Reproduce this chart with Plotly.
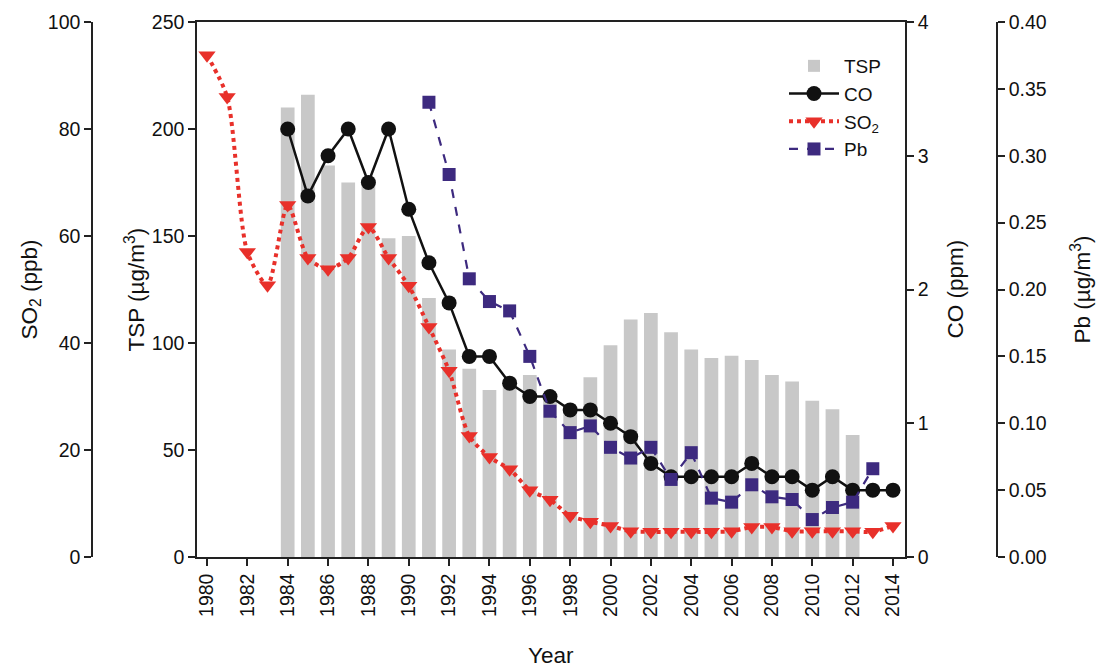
import plotly.graph_objects as go

tsp_years = list(range(1984, 2013))
tsp = [210, 216, 183, 175, 177, 149, 150, 121, 97, 88, 78, 83, 85, 76, 68, 84,
       99, 111, 114, 105, 97, 93, 94, 92, 85, 82, 73, 69, 57]

co_years = list(range(1984, 2015))
co = [3.2, 2.7, 3.0, 3.2, 2.8, 3.2, 2.6, 2.2, 1.9, 1.5, 1.5, 1.3, 1.2, 1.2, 1.1, 1.1,
      1.0, 0.9, 0.7, 0.6, 0.6, 0.6, 0.6, 0.7, 0.6, 0.6, 0.5, 0.6, 0.5, 0.5, 0.5]

so2_years = list(range(1980, 2015))
so2 = [93.8, 86.0, 57.0, 50.8, 65.8, 55.9, 53.8, 55.9, 61.7, 55.9, 50.7, 43.0,
       34.8, 22.6, 18.7, 16.4, 12.5, 10.7, 7.7, 6.6, 5.8, 4.8, 4.7, 4.7, 4.7,
       4.7, 4.8, 5.6, 5.6, 4.8, 4.8, 4.8, 4.8, 4.7, 5.8]

pb_years = list(range(1991, 2014))
pb = [0.340, 0.286, 0.208, 0.191, 0.184, 0.150, 0.109, 0.093, 0.098, 0.082,
      0.074, 0.082, 0.058, 0.078, 0.044, 0.041, 0.054, 0.045, 0.043, 0.028,
      0.037, 0.041, 0.066]

x_ticks = list(range(1980, 2015, 2))

FONT = "Liberation Sans, Arial, sans-serif"
AX = "#222222"
W, H = 1099, 667
ML, MR, MT, MB = 92, 102, 22, 110
PW = W - ML - MR
PH = H - MT - MB


def px(x):
    return (x - ML) / PW


def py(y):
    return (H - MB - y) / PH


fig = go.Figure()
fig.add_trace(go.Bar(x=tsp_years, y=tsp, name="TSP", marker_color="#c8c8c8",
                     marker_line_width=0, width=0.68, xaxis="x", yaxis="y",
                     legendrank=1))
fig.add_trace(go.Scatter(x=so2_years, y=so2, name="SO<sub>2</sub>", mode="lines+markers",
                         line=dict(color="#e8302a", width=4, dash="dot", shape="spline", smoothing=0.7),
                         marker=dict(symbol="triangle-down", size=15, color="#e8302a"),
                         xaxis="x", yaxis="y3", legendrank=3))
fig.add_trace(go.Scatter(x=co_years, y=co, name="CO", mode="lines+markers",
                         line=dict(color="#111111", width=2.5),
                         marker=dict(symbol="circle", size=15, color="#111111"),
                         xaxis="x", yaxis="y2", legendrank=2))
fig.add_trace(go.Scatter(x=pb_years, y=pb, name="Pb", mode="lines+markers",
                         line=dict(color="#3d2a7f", width=2.2, dash="dash"),
                         marker=dict(symbol="square", size=13, color="#3d2a7f"),
                         xaxis="x", yaxis="y4", legendrank=4))

tickfont = dict(family=FONT, size=19.5, color="#111")
common = dict(showgrid=False, zeroline=False, showline=True, linecolor=AX, linewidth=1.5,
              ticks="outside", ticklen=7, tickwidth=1.5, tickcolor=AX, tickfont=tickfont)

fig.update_layout(
    width=W, height=H,
    margin=dict(l=ML, r=MR, t=MT, b=MB),
    paper_bgcolor="white", plot_bgcolor="white",
    font=dict(family=FONT, size=19, color="#111"),
    showlegend=True,
    legend=dict(x=px(784), y=py(47), xanchor="left", yanchor="top",
                bgcolor="rgba(0,0,0,0)", font=dict(family=FONT, size=19),
                tracegroupgap=0, itemwidth=50),
    xaxis=dict(domain=[px(197), px(905)], range=[1979.505, 2014.595],
               tickvals=x_ticks, ticktext=[str(v) for v in x_ticks], tickangle=-90,
               mirror=True, anchor="y", **common),
    yaxis=dict(range=[0, 250], tickvals=[0, 50, 100, 150, 200, 250], anchor="x", **common),
    yaxis2=dict(range=[0, 4], tickvals=[0, 1, 2, 3, 4], overlaying="y", side="right",
                anchor="x", **common),
    yaxis3=dict(range=[0, 100], tickvals=[0, 20, 40, 60, 80, 100], overlaying="y",
                side="left", anchor="free", position=0, **common),
    yaxis4=dict(range=[0, 0.4], tickvals=[0, 0.05, 0.1, 0.15, 0.2, 0.25, 0.3, 0.35, 0.4],
                tickformat=".2f", overlaying="y", side="right", anchor="free", position=1,
                **common),
)

title_font = dict(family=FONT, size=22.5, color="#111")
ymid = py(289.5)
for text, x in [("SO<sub>2</sub> (ppb)", 30), ("TSP (µg/m<sup>3</sup>)", 134),
                ("CO (ppm)", 955), ("Pb (µg/m<sup>3</sup>)", 1080)]:
    fig.add_annotation(text=text, x=px(x), y=ymid, xref="paper", yref="paper",
                       textangle=-90, showarrow=False, font=title_font,
                       xanchor="center", yanchor="middle")
fig.add_annotation(text="Year", x=px(551), y=py(655), xref="paper", yref="paper",
                   showarrow=False, font=title_font, xanchor="center", yanchor="middle")

fig.write_html("out.html")
